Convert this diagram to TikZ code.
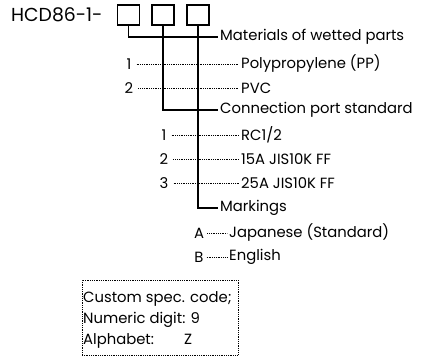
\documentclass[tikz,border=0pt]{standalone}
\usepackage{fontspec}
\setmainfont{Poppins}
\begin{document}
\begin{tikzpicture}[x=1pt,y=-1pt,
  lbl/.style={inner xsep=2pt,inner ysep=0pt,anchor=west,font=\fontsize{14.8}{16}\selectfont},
  boxtxt/.style={lbl,font=\fontsize{14.8}{16}\selectfont},
  num/.style={inner xsep=5pt,inner ysep=2pt,font=\fontsize{14.8}{16}\selectfont},
  codebox/.style={draw,line width=1.2pt,minimum width=22pt,minimum height=20pt,inner sep=0pt},
  solidline/.style={line width=1.2pt},
  dotline/.style={line width=0.9pt,dash pattern=on 0.9pt off 0.9pt}]
\useasboundingbox (0,0) rectangle (422,358);
\node[lbl,font=\fontsize{18.8}{20}\selectfont] (title) at (9,15) {HCD86-1-};
\node[codebox] (b1) at (128.5,15) {};
\node[codebox] (b2) at (163,15) {};
\node[codebox] (b3) at (198,15) {};
\node[lbl] (mat) at (218,37) {Materials of wetted parts};
\node[num] (m1) at (129,64) {1};
\node[lbl] (pp) at (239,64) {Polypropylene (PP)};
\node[num] (m2) at (129,88) {2};
\node[lbl] (pvc) at (239,88) {PVC};
\node[lbl] (conn) at (218,110) {Connection port standard};
\node[num] (c1) at (164,135) {1};
\node[lbl] (rc) at (239,135) {RC1/2};
\node[num] (c2) at (164,159) {2};
\node[lbl] (j15) at (239,159) {15A JIS10K FF};
\node[num] (c3) at (164,183) {3};
\node[lbl] (j25) at (239,183) {25A JIS10K FF};
\node[lbl] (mark) at (218,208) {Markings};
\node[num,inner xsep=3pt] (ka) at (199,233) {A};
\node[lbl] (jp) at (227,233) {Japanese (Standard)};
\node[num,inner xsep=3pt] (kb) at (199,257) {B};
\node[lbl] (en) at (227,257) {English};
\draw[solidline] (b1.south) |- (mat.west);
\draw[solidline] (b2.south) |- (conn.west);
\draw[solidline] (b3.south) |- (mark.west);
\draw[dotline] (m1.east) -- (pp.west);
\draw[dotline] (m2.east) -- (pvc.west);
\draw[dotline] (c1.east) -- (rc.west);
\draw[dotline] (c2.east) -- (j15.west);
\draw[dotline] (c3.east) -- (j25.west);
\draw[dotline] (ka.east) -- (jp.west);
\draw[dotline] (kb.east) -- (en.west);
\node[draw,dotline,minimum width=156pt,minimum height=75pt,inner sep=0pt] (cbox) at (160,317.5) {};
\node[boxtxt] (t1) at (81,299) {Custom spec. code;};
\node[boxtxt] (t2) at (81,320) {Numeric digit: 9};
\node[boxtxt] (t3) at (81,341) {Alphabet:\hspace{30pt}Z};
\end{tikzpicture}
\end{document}
